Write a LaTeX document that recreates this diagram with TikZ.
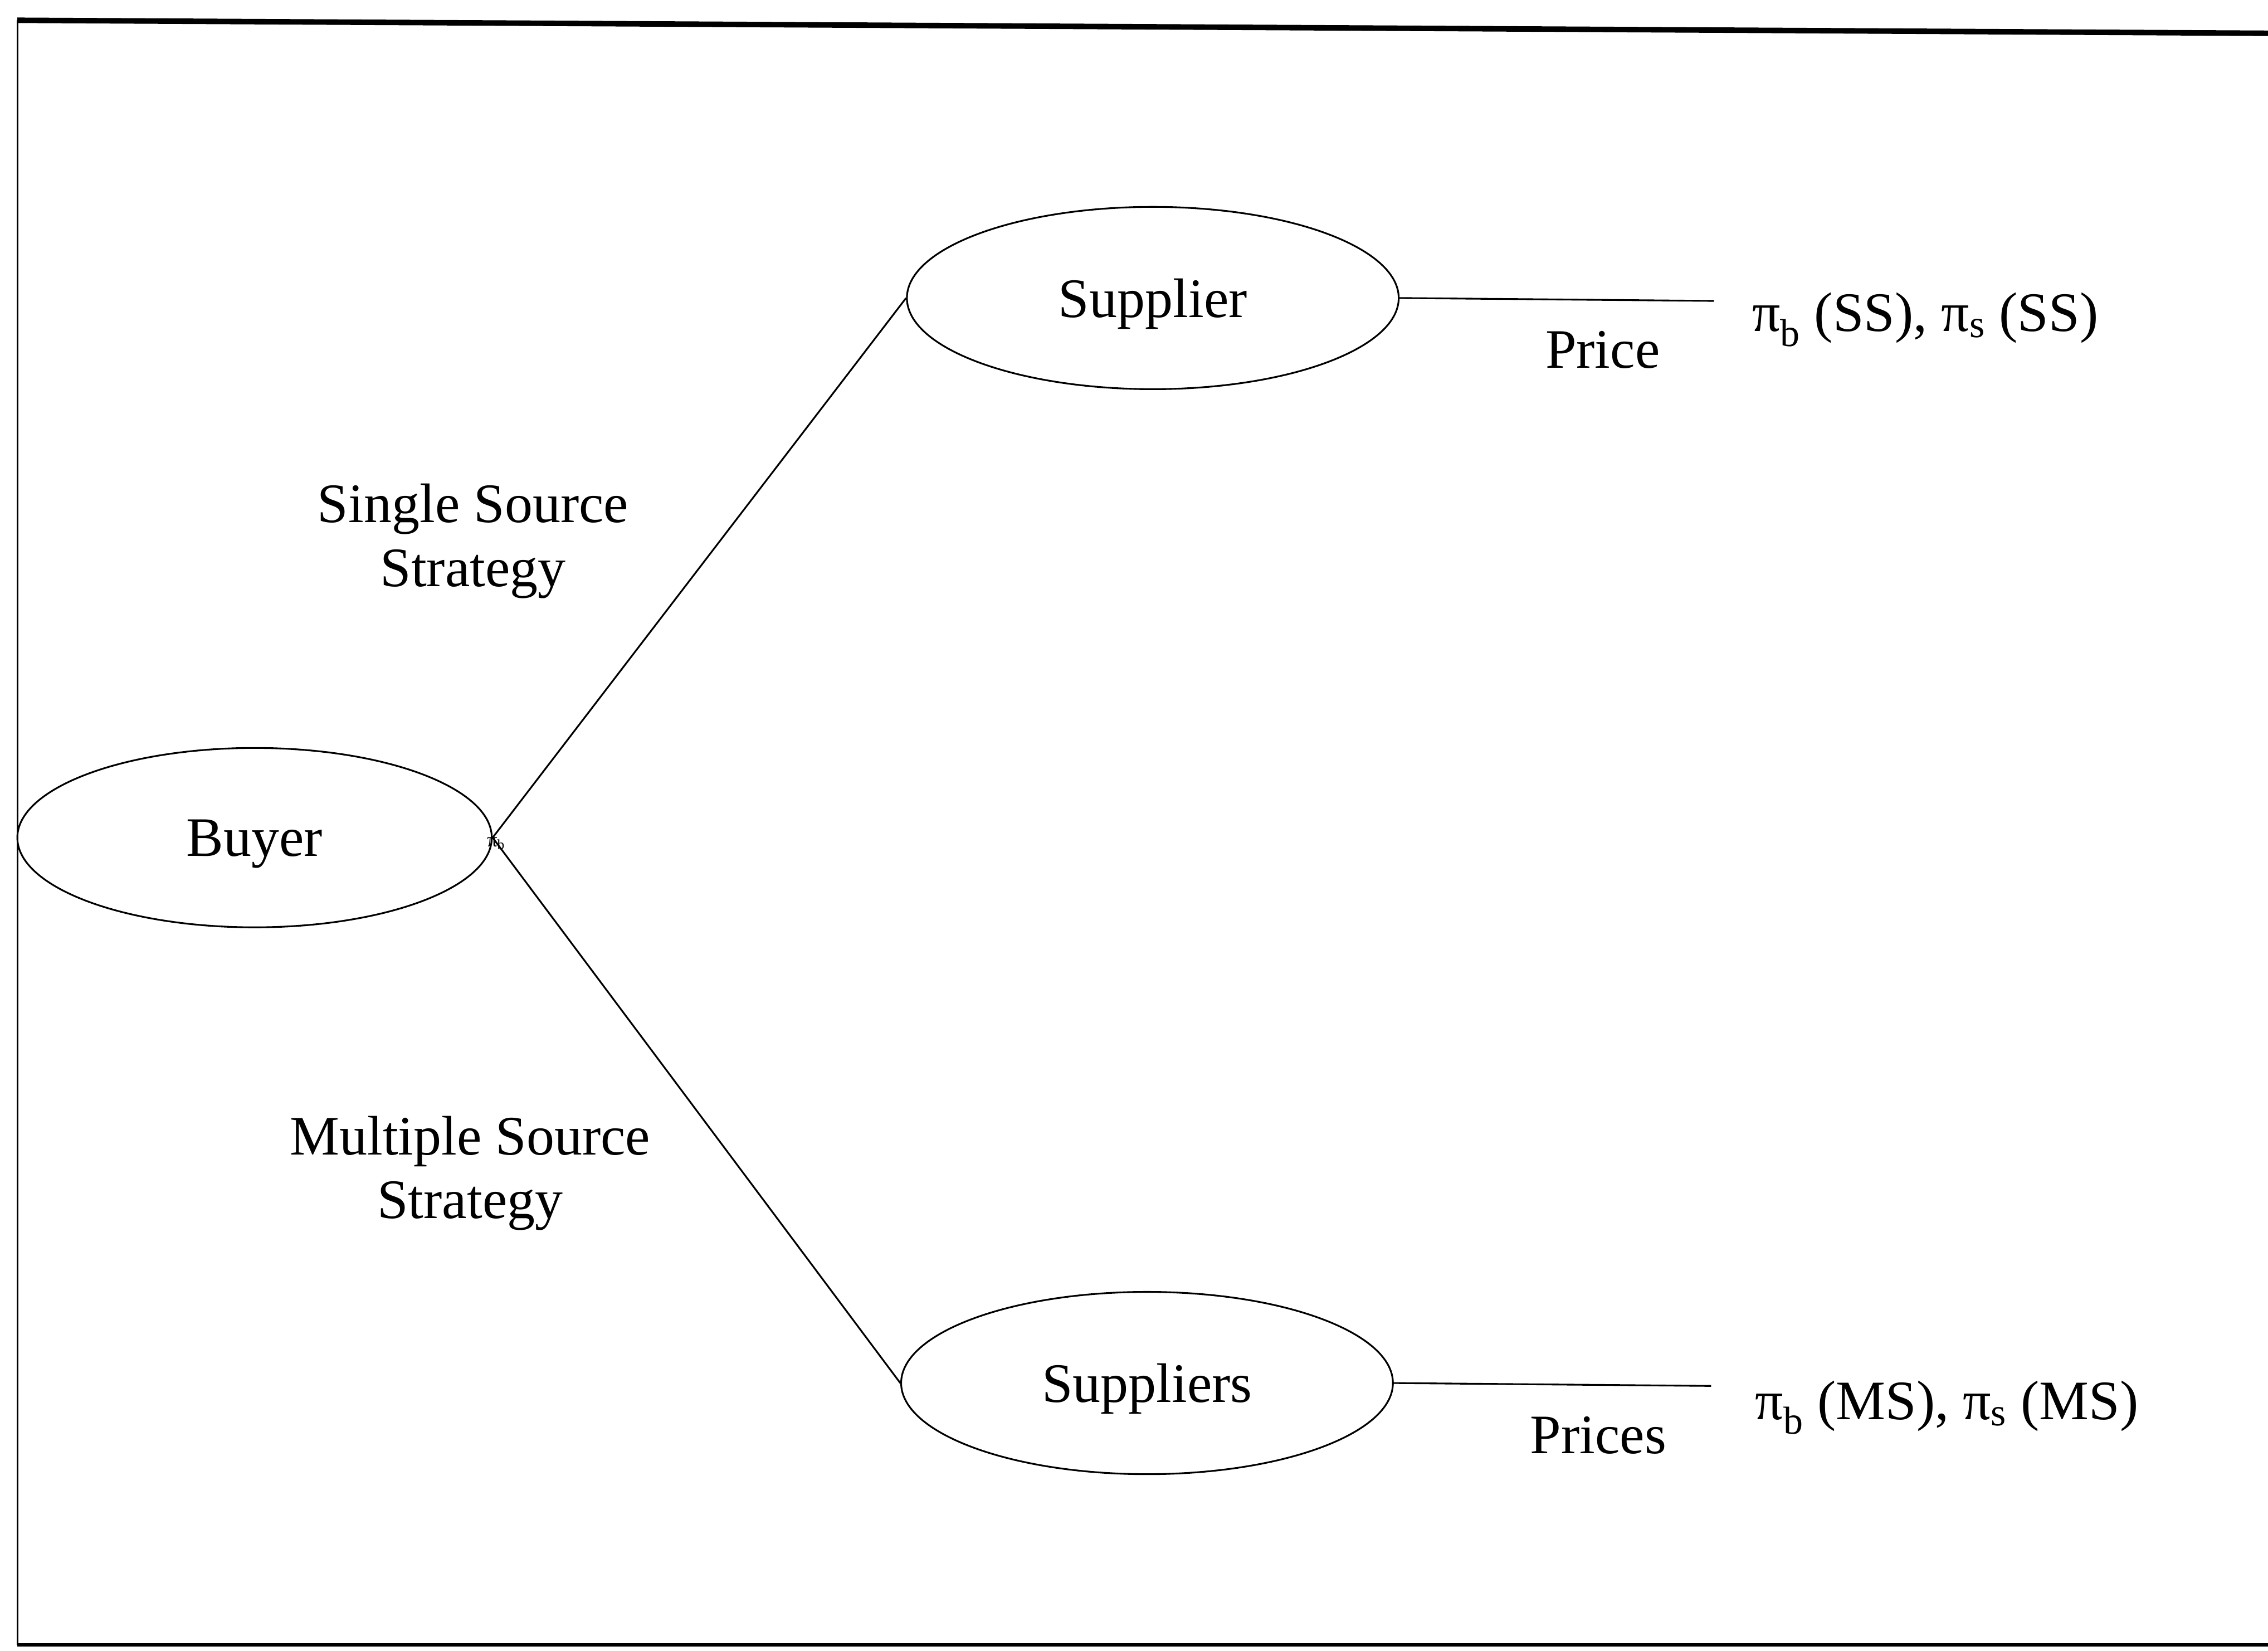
\documentclass[tikz,border=0pt]{standalone}
\usepackage{fontspec}
\setmainfont{Liberation Serif}
\usetikzlibrary{shapes.geometric}
\begin{document}
\begin{tikzpicture}[x=1pt,y=-1pt,
  every node/.style={font=\fontsize{38.5}{44}\selectfont},
  stage/.style={draw, ellipse, line width=1.2pt, inner sep=0pt, text depth=0pt},
  txt/.style={align=center, inner sep=0pt},
  link/.style={line width=1.2pt},
  frameline/.style={line width=1.2pt}]
\useasboundingbox (0,0) rectangle (1568,1141);
\fill[white] (0,0) rectangle (1568,1141);
% frame
\coordinate (ftl) at (12,14);
\coordinate (ftr) at (1568,23);
\coordinate (fbl) at (12,1137);
\coordinate (fbr) at (1568,1137);
\draw[line width=3.8pt] (ftl) -- (ftr);
\draw[frameline] (ftl) -- (fbl);
\draw[line width=2pt] (fbl) -- (fbr);
% nodes
\node[stage, minimum width=328pt, minimum height=124pt] (buyer) at (176,579) {Buyer};
\node[stage, minimum width=340pt, minimum height=126pt] (sup) at (797,206) {Supplier};
\node[stage, minimum width=340pt, minimum height=126pt] (sups) at (793,956) {Suppliers};
% connectors
\draw[link] (buyer.east) -- (sup.west);
\draw[link] (buyer.east) -- (sups.west);
\coordinate (endss) at (1185,208);
\coordinate (endms) at (1183,958);
\draw[link] (sup.east) -- (endss);
\draw[link] (sups.east) -- (endms);
% labels
\node[txt] (sslab) at (327,374) {Single Source\\Strategy};
\node[txt] (mslab) at (325,811) {Multiple Source\\Strategy};
\node[txt] (price) at (1108,242) {Price};
\node[txt] (prices) at (1105,992) {Prices};
\node[txt] (payss) at (1331,221) {π\textsubscript{b} (SS), π\textsubscript{s} (SS)};
\node[txt] (payms) at (1346,973) {π\textsubscript{b} (MS), π\textsubscript{s} (MS)};
\node[txt, font=\fontsize{14}{16}\selectfont] (junc) at (343,583) {π\textsubscript{b}};
\end{tikzpicture}
\end{document}
